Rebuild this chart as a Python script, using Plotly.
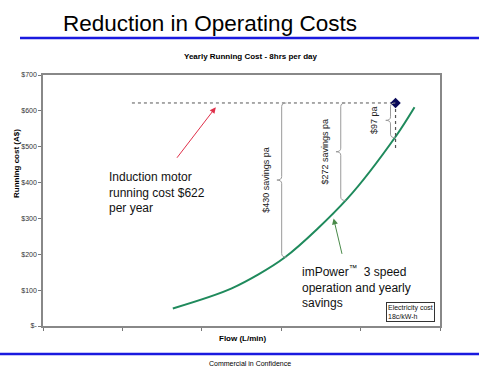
import plotly.graph_objects as go

# ---- data ----
flow = [1.635, 2.377, 3.044, 3.836, 4.453, 4.679]
impower_cost = [49, 105, 191, 356, 532, 610]
induction_cost = 622
induction_flow = [1.12, 4.44]
impower_at_max = 490
savings = [430, 272, 97]
savings_flow = [3.006, 3.75, 4.377]
savings_labels = ["$430 savings pa", "$272 savings pa", "$97 pa"]
y_ticks = [0, 100, 200, 300, 400, 500, 600, 700]
y_tick_labels = ["$-", "$100", "$200", "$300", "$400", "$500", "$600", "$700"]
x_ticks = [0, 1, 2, 3, 4, 5]
red_arrow_x = [1.673, 2.176]
red_arrow_y = [465, 610]
green_arrow_x = [3.77, 3.66]
green_arrow_y = [197, 300]

W, H = 479, 374
L, R, T, B = 43, 39, 75, 48
FONT = "Liberation Sans, Arial, sans-serif"

def px(x):
    return (x - L) / (W - L - R)

def py(y):
    return (H - B - y) / (H - T - B)

fig = go.Figure()

# green imPower curve
fig.add_trace(go.Scatter(x=flow, y=impower_cost, mode="lines",
                         line=dict(color="#1f8a5c", width=2, shape="spline", smoothing=0.8),
                         hoverinfo="skip"))
# induction motor dotted line
fig.add_trace(go.Scatter(x=induction_flow, y=[induction_cost, induction_cost], mode="lines",
                         line=dict(color="#555555", width=1, dash="dot"), hoverinfo="skip"))
fig.add_trace(go.Scatter(x=[induction_flow[1], induction_flow[1]], y=[induction_cost, impower_at_max],
                         mode="lines", line=dict(color="#555555", width=1.2, dash="dot"), hoverinfo="skip"))
fig.add_trace(go.Scatter(x=[induction_flow[1]], y=[induction_cost], mode="markers",
                         marker=dict(symbol="diamond", size=8, color="#0a0a5a"), hoverinfo="skip"))

shapes = []
annotations = []

# arrows
for ax_, ay_, col in [(red_arrow_x, red_arrow_y, "#e0304a"), (green_arrow_x, green_arrow_y, "#4a8a4a")]:
    annotations.append(dict(x=ax_[1], y=ay_[1], ax=ax_[0], ay=ay_[0], xref="x", yref="y",
                            axref="x", ayref="y", showarrow=True, arrowhead=2, arrowsize=1.2,
                            arrowwidth=1, arrowcolor=col, text=""))

# braces
w = 0.06
h = 10
for s, fx, lab in zip(savings, savings_flow, savings_labels):
    top = induction_cost
    bot = induction_cost - s
    mid = (top + bot) / 2
    path = (f"M {fx + w},{top} Q {fx},{top} {fx},{top - h} L {fx},{mid + h} "
            f"Q {fx},{mid} {fx - w},{mid} Q {fx},{mid} {fx},{mid - h} "
            f"L {fx},{bot + h} Q {fx},{bot} {fx + w},{bot}")
    shapes.append(dict(type="path", path=path, xref="x", yref="y",
                       line=dict(color="#9a9a9a", width=1)))
    annotations.append(dict(x=fx - 0.2, y=mid, xref="x", yref="y", text=lab, textangle=-90,
                            showarrow=False, font=dict(family=FONT, size=9, color="#222")))

annotations.append(dict(x=px(107), y=py(168), xref="paper", yref="paper", xanchor="left", yanchor="top",
                        align="left", showarrow=False,
                        text="Induction motor<br>running cost $622<br>per year",
                        font=dict(family=FONT, size=12, color="#111")))
annotations.append(dict(x=px(300), y=py(261), xref="paper", yref="paper", xanchor="left", yanchor="top",
                        align="left", showarrow=False,
                        text="imPower<sup>™</sup>  3 speed<br>operation and yearly<br>savings",
                        font=dict(family=FONT, size=12, color="#111")))
annotations.append(dict(x=px(386), y=py(302), xref="paper", yref="paper", xanchor="left", yanchor="top",
                        align="left", showarrow=False, text="Electricity cost<br>18c/kW-h",
                        bordercolor="#333", borderwidth=1, borderpad=1, bgcolor="white",
                        font=dict(family=FONT, size=7, color="#111")))
# titles
annotations.append(dict(x=px(61), y=py(9), xref="paper", yref="paper", xanchor="left", yanchor="top",
                        showarrow=False, text="Reduction in Operating Costs",
                        font=dict(family=FONT, size=22.5, color="#000")))
annotations.append(dict(x=px(250), y=py(56), xref="paper", yref="paper", xanchor="center", yanchor="middle",
                        showarrow=False, text="<b>Yearly Running Cost - 8hrs per day</b>",
                        font=dict(family=FONT, size=8, color="#000")))
annotations.append(dict(x=px(16), y=py(163), xref="paper", yref="paper", xanchor="center", yanchor="middle",
                        showarrow=False, text="<b>Running cost (A$)</b>", textangle=-90,
                        font=dict(family=FONT, size=8, color="#000")))
annotations.append(dict(x=px(242), y=py(338), xref="paper", yref="paper", xanchor="center", yanchor="middle",
                        showarrow=False, text="<b>Flow (L/min)</b>",
                        font=dict(family=FONT, size=8, color="#000")))
annotations.append(dict(x=px(250), y=py(363), xref="paper", yref="paper", xanchor="center", yanchor="middle",
                        showarrow=False, text="Commercial in Confidence",
                        font=dict(family=FONT, size=7, color="#000")))

# blue rules
shapes.append(dict(type="line", xref="paper", yref="paper", x0=px(20), x1=px(479), y0=py(38), y1=py(38),
                   line=dict(color="#1a1adf", width=2.5)))
shapes.append(dict(type="line", xref="paper", yref="paper", x0=px(0), x1=px(479), y0=py(354), y1=py(354),
                   line=dict(color="#1a1adf", width=2.5)))

fig.update_layout(
    width=W, height=H, margin=dict(l=L, r=R, t=T, b=B),
    paper_bgcolor="white", plot_bgcolor="white", showlegend=False,
    shapes=shapes, annotations=annotations,
    xaxis=dict(range=[0, 5], tickvals=x_ticks, showticklabels=False, ticks="outside", ticklen=3,
               tickcolor="#777", showgrid=False, zeroline=False, showline=True, linecolor="#888",
               linewidth=1.5, mirror=True),
    yaxis=dict(range=[0, 700], tickvals=y_ticks, ticktext=y_tick_labels, ticks="outside", ticklen=3,
               tickcolor="#777", showgrid=False, zeroline=False, showline=True, linecolor="#888",
               linewidth=1.5, mirror=True, tickfont=dict(family=FONT, size=7, color="#333")),
)

fig.write_html("out.html", config={"displayModeBar": False},
               post_script="document.body.style.margin='0';")
